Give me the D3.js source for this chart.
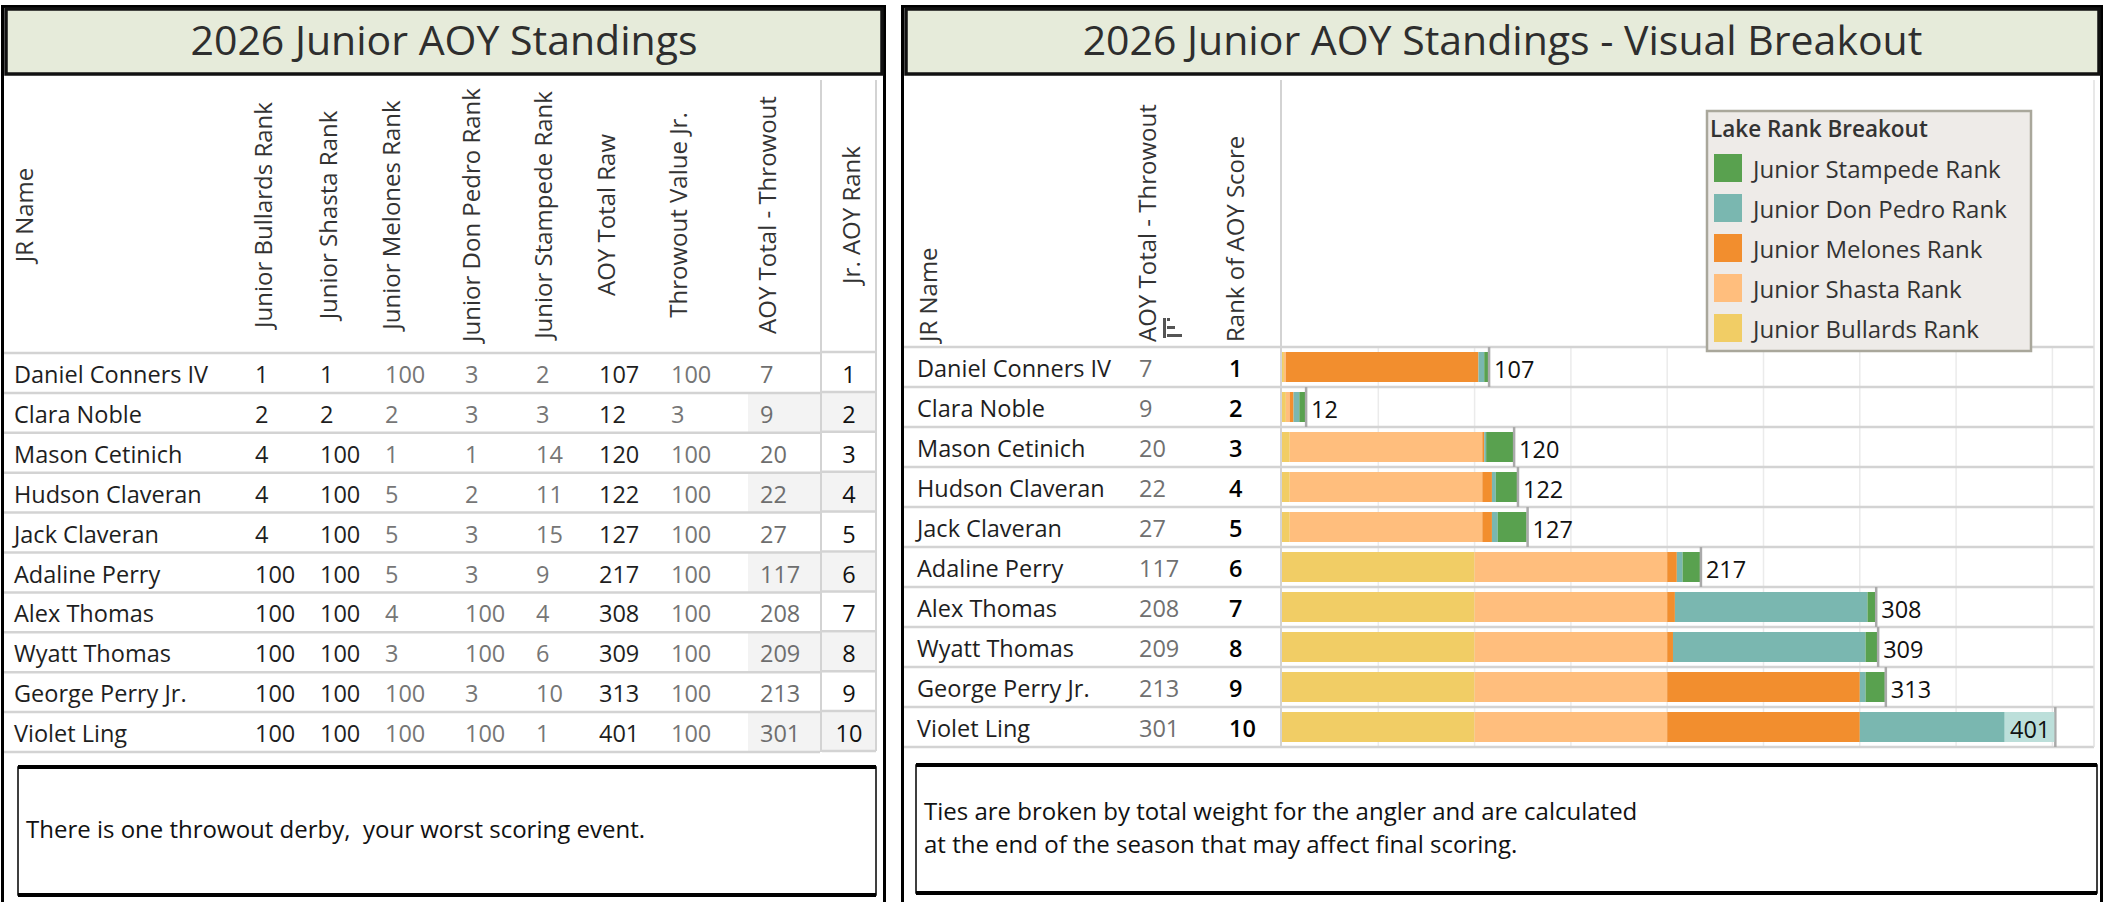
<!DOCTYPE html>
<html>
<head>
<meta charset="utf-8">
<script src="https://cdn.jsdelivr.net/npm/d3@7"></script>
<style>
  body{margin:0;background:#fff}
  svg{display:block}
  text{font-family:'Open Sans','Noto Sans',sans-serif;white-space:pre}
</style>
</head>
<body>
<svg id="chart"></svg>
<script>
// data
const names=["Daniel Conners IV","Clara Noble","Mason Cetinich","Hudson Claveran","Jack Claveran",
  "Adaline Perry","Alex Thomas","Wyatt Thomas","George Perry Jr.","Violet Ling"]
const bullards=[1,2,4,4,4,100,100,100,100,100]
const shasta=[1,2,100,100,100,100,100,100,100,100]
const melones=[100,2,1,5,5,5,4,3,100,100]
const donPedro=[3,3,1,2,3,3,100,100,3,100]
const stampede=[2,3,14,11,15,9,4,6,10,1]
const aoyRaw=[107,12,120,122,127,217,308,309,313,401]
const throwout=[100,3,100,100,100,100,100,100,100,100]
const aoyNet=[7,9,20,22,27,117,208,209,213,301]
const jrRank=[1,2,3,4,5,6,7,8,9,10]
const lakes=["Junior Bullards Rank","Junior Shasta Rank","Junior Melones Rank","Junior Don Pedro Rank","Junior Stampede Rank"]
const lakeColors=["#f1cd65","#ffbe7d","#f28e2e","#7ab7b0","#59a14f"]
const xTicks=[50,100,150,200,250,300,350,400]

const W=2114, H=902
const svg=d3.select('#chart').attr('width',W).attr('height',H)
const GRID='#d3d3d3', DARK='#1e1e1e', GREY='#767676'

// ---------- frames + titles ----------
svg.append('rect').attr('x',2.5).attr('y',6.5).attr('width',882).attr('height',H)
  .attr('fill','none').attr('stroke','#000').attr('stroke-width',3)
svg.append('rect').attr('x',902.5).attr('y',6.5).attr('width',1199).attr('height',H)
  .attr('fill','none').attr('stroke','#000').attr('stroke-width',3)
const titles=[
  {x:6,w:876,t:"2026 Junior AOY Standings"},
  {x:906,w:1193,t:"2026 Junior AOY Standings - Visual Breakout"}
]
titles.forEach(d=>{
  svg.append('rect').attr('x',d.x).attr('y',9).attr('width',d.w).attr('height',65)
    .attr('fill','#e6ebda').attr('stroke','#111').attr('stroke-width',3.5)
  svg.append('text').attr('x',d.x+d.w/2).attr('y',55).attr('text-anchor','middle')
    .attr('font-size',41).attr('fill','#2e2e2e').text(d.t)
})

// ---------- left table ----------
const yL=d3.scaleBand().domain(names).range([353,752])
const left=svg.append('g')
const lcols=[
  {h:"Junior Bullards Rank",v:bullards,hx:262,x:255,c:DARK},
  {h:"Junior Shasta Rank",v:shasta,hx:327,x:320,c:DARK},
  {h:"Junior Melones Rank",v:melones,hx:390,x:385,c:GREY},
  {h:"Junior Don Pedro Rank",v:donPedro,hx:470,x:465,c:GREY},
  {h:"Junior Stampede Rank",v:stampede,hx:542,x:536,c:GREY},
  {h:"AOY Total Raw",v:aoyRaw,hx:605,x:599,c:DARK},
  {h:"Throwout Value Jr.",v:throwout,hx:677,x:671,c:GREY},
  {h:"AOY Total - Throwout",v:aoyNet,hx:766,x:760,c:'#6e6e6e'}
]
// banding on the last two columns
names.forEach((n,i)=>{
  if(i%2==1){
    left.append('rect').attr('x',748).attr('y',yL(n)).attr('width',72).attr('height',yL.bandwidth()).attr('fill','#f3f3f3')
    left.append('rect').attr('x',822).attr('y',yL(n)).attr('width',54).attr('height',yL.bandwidth()).attr('fill','#f3f3f3')
  }
})
// row lines
d3.range(11).forEach(k=>{
  const y=353+k*yL.step()
  left.append('line').attr('x1',4).attr('x2',820).attr('y1',y).attr('y2',y).attr('stroke',GRID).attr('stroke-width',2.5)
  left.append('line').attr('x1',822).attr('x2',876).attr('y1',y-1).attr('y2',y-1).attr('stroke',GRID).attr('stroke-width',2.5)
})
left.append('line').attr('x1',821).attr('x2',821).attr('y1',80).attr('y2',752).attr('stroke',GRID).attr('stroke-width',2)
left.append('line').attr('x1',876).attr('x2',876).attr('y1',80).attr('y2',751).attr('stroke',GRID).attr('stroke-width',2)

const rotHead=(g,x,y,t,anchor)=>g.append('text')
  .attr('transform',`translate(${x},${y}) rotate(-90)`)
  .attr('text-anchor',anchor).attr('dominant-baseline','central')
  .attr('font-size',24).attr('fill','#333').text(t)

rotHead(left,23,215,"JR Name",'middle')
lcols.forEach(c=>rotHead(left,c.hx,215,c.h,'middle'))
rotHead(left,850,215,"Jr. AOY Rank",'middle')

names.forEach((n,i)=>{
  const by=yL(n)+30
  left.append('text').attr('x',14).attr('y',by).attr('font-size',23.5).attr('fill',DARK).text(n)
  lcols.forEach(c=>{
    left.append('text').attr('x',c.x).attr('y',by).attr('font-size',23.5).attr('fill',c.c).text(c.v[i])
  })
  left.append('text').attr('x',849).attr('y',by).attr('text-anchor','middle')
    .attr('font-size',23.5).attr('fill','#111').text(jrRank[i])
})

// ---------- right chart ----------
const yR=d3.scaleBand().domain(names).range([347,747])
const x=d3.scaleLinear().domain([0,421.6]).range([1282,2094])
const right=svg.append('g')

// gridlines
right.selectAll('.grid').data(xTicks).enter().append('line')
  .attr('x1',d=>x(d)).attr('x2',d=>x(d)).attr('y1',347).attr('y2',747)
  .attr('stroke','#ebebeb').attr('stroke-width',1.5)
d3.range(11).forEach(k=>{
  const y=347+k*yR.step()
  right.append('line').attr('x1',904).attr('x2',2094).attr('y1',y).attr('y2',y).attr('stroke',GRID).attr('stroke-width',2.5)
})
right.append('line').attr('x1',1281).attr('x2',1281).attr('y1',80).attr('y2',747).attr('stroke',GRID).attr('stroke-width',2)
right.append('line').attr('x1',2094).attr('x2',2094).attr('y1',80).attr('y2',747).attr('stroke','#e0e0e0').attr('stroke-width',1.5)

rotHead(right,927,342,"JR Name",'start')
rotHead(right,1146,342,"AOY Total - Throwout",'start')
rotHead(right,1234,342,"Rank of AOY Score",'start')
// little sort icon under the header
const ic=right.append('g').attr('fill','#555')
ic.append('rect').attr('x',1163).attr('y',318).attr('width',3).attr('height',20)
ic.append('rect').attr('x',1167).attr('y',318).attr('width',3).attr('height',3)
ic.append('rect').attr('x',1167).attr('y',326).attr('width',8).attr('height',3)
ic.append('rect').attr('x',1167).attr('y',334).attr('width',15).attr('height',3)

// stacked bars
const series=[bullards,shasta,melones,donPedro,stampede]
const rows=names.map((n,i)=>{
  const r={name:n}
  lakes.forEach((l,j)=>r[l]=series[j][i])
  return r
})
const stack=d3.stack().keys(lakes)(rows)
right.selectAll('.layer').data(stack).enter().append('g')
  .attr('fill',(d,j)=>lakeColors[j])
  .selectAll('rect').data(d=>d).enter().append('rect')
  .attr('x',d=>x(d[0])).attr('width',d=>x(d[1])-x(d[0]))
  .attr('y',d=>yR(d.data.name)+5).attr('height',yR.bandwidth()-10)

names.forEach((n,i)=>{
  const by=yR(n)+30, xe=x(aoyRaw[i])
  right.append('text').attr('x',917).attr('y',by).attr('font-size',23.5).attr('fill',DARK).text(n)
  right.append('text').attr('x',1139).attr('y',by).attr('font-size',23.5).attr('fill','#707070').text(aoyNet[i])
  right.append('text').attr('x',1229).attr('y',by).attr('font-size',23.5).attr('font-weight',600).attr('fill','#000').text(jrRank[i])
  right.append('line').attr('x1',xe+1).attr('x2',xe+1).attr('y1',yR(n)).attr('y2',yR(n)+yR.bandwidth())
    .attr('stroke','#aaa').attr('stroke-width',2.5)
  if(xe+55<x.range()[1]){
    right.append('text').attr('x',xe+6).attr('y',by+1).attr('font-size',23.5).attr('fill','#111').text(aoyRaw[i])
  } else { // no room: label sits inside the bar end
    right.append('rect').attr('x',xe-50).attr('y',yR(n)+5).attr('width',50).attr('height',yR.bandwidth()-10).attr('fill','#bcdfda')
    right.append('text').attr('x',xe-4).attr('y',by+1).attr('text-anchor','end').attr('font-size',23.5).attr('fill','#111').text(aoyRaw[i])
  }
})

// legend
const lg=right.append('g')
lg.append('rect').attr('x',1707).attr('y',111).attr('width',324).attr('height',240)
  .attr('fill','#eeebe8').attr('stroke','#a9a79b').attr('stroke-width',2.5)
lg.append('text').attr('x',1710).attr('y',137).attr('font-size',22.5).attr('font-weight',600).attr('fill','#333').text("Lake Rank Breakout")
const legOrder=d3.range(lakes.length).reverse()
legOrder.forEach((j,k)=>{
  lg.append('rect').attr('x',1714).attr('y',154+k*40).attr('width',28).attr('height',28).attr('fill',lakeColors[j])
  lg.append('text').attr('x',1753).attr('y',178+k*40).attr('font-size',24).attr('fill','#333').text(lakes[j])
})

// ---------- note boxes ----------
const notes=[
  {x:18,y:767,w:858,h:128,lines:["There is one throwout derby,  your worst scoring event."],ty:[838],tx:26},
  {x:916,y:765,w:1181,h:128,lines:["Ties are broken by total weight for the angler and are calculated","at the end of the season that may affect final scoring."],ty:[820,853],tx:924}
]
notes.forEach(d=>{
  svg.append('rect').attr('x',d.x).attr('y',d.y).attr('width',d.w).attr('height',d.h)
    .attr('fill','none').attr('stroke','#000').attr('stroke-width',1.5)
  svg.append('line').attr('x1',d.x).attr('x2',d.x+d.w).attr('y1',d.y).attr('y2',d.y).attr('stroke','#000').attr('stroke-width',4)
  svg.append('line').attr('x1',d.x).attr('x2',d.x+d.w).attr('y1',d.y+d.h).attr('y2',d.y+d.h).attr('stroke','#000').attr('stroke-width',4)
  d.lines.forEach((t,k)=>svg.append('text').attr('x',d.tx).attr('y',d.ty[k]).attr('font-size',24).attr('fill','#111').text(t))
})
</script>
</body>
</html>
